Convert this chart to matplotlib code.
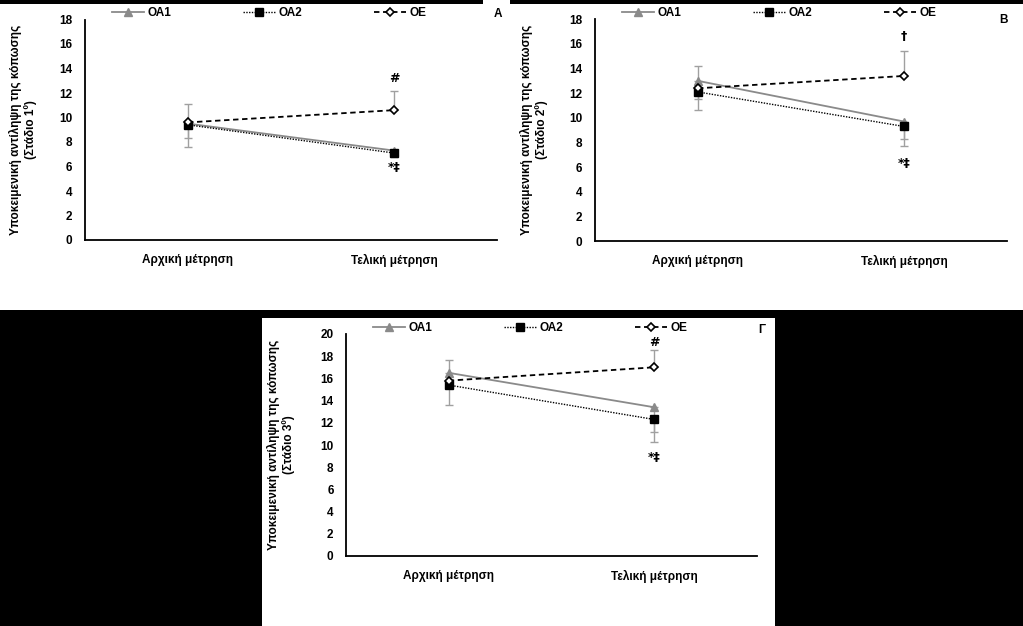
import numpy as np
import matplotlib
matplotlib.use('Agg')
import matplotlib.pyplot as plt
from matplotlib.patches import Rectangle

plt.rcParams['font.family'] = ['Liberation Sans', 'DejaVu Sans']
plt.rcParams['font.weight'] = 'bold'

W, H = 1023, 626

# Κατηγορίες και ετικέτες
categories = ['Αρχική μέτρηση', 'Τελική μέτρηση']
series_names = ['ΟΑ1', 'ΟΑ2', 'ΟΕ']

# Πάνελ Α (Στάδιο 1ο)
oa1_a = [9.5, 7.3]
oa2_a = [9.4, 7.1]
oe_a = [9.6, 10.6]
oa1_a_err = [1.2, 0.4]   # προς τα κάτω
oa2_a_err = [1.8, 0.3]   # προς τα κάτω
oe_a_err = [1.5, 1.6]    # προς τα πάνω

# Πάνελ Β (Στάδιο 2ο)
oa1_b = [13.0, 9.7]
oa2_b = [12.1, 9.3]
oe_b = [12.4, 13.4]
oa1_b_err = [1.5, 1.4]
oa2_b_err = [1.5, 1.6]
oe_b_err = [1.8, 2.0]

# Πάνελ Γ (Στάδιο 3ο)
oa1_c = [16.5, 13.4]
oa2_c = [15.4, 12.3]
oe_c = [15.8, 17.0]
oa1_c_err = [1.3, 2.2]
oa2_c_err = [1.8, 2.0]
oe_c_err = [1.9, 1.6]

# Σημειώσεις σημαντικότητας (κείμενο, τιμή y) στην τελική μέτρηση
notes_a = [('#', 13.2), ('*‡', 5.9)]
notes_b = [('†', 16.6), ('*‡', 6.3)]
notes_c = [('#', 19.2), ('*‡', 8.9)]

GREY = '#8a8a8a'
ERR = '#a0a0a0'
FS = 8.5


def px_rect(x0, y0, x1, y1):
    return [x0 / W, 1 - y1 / H, (x1 - x0) / W, (y1 - y0) / H]


fig = plt.figure(figsize=(W / 100, H / 100), dpi=100, facecolor='black')

# λευκά φόντα των πάνελ
for r in [(0, 4, W, 310), (483, 0, 510, 4), (262, 318, 775, H)]:
    x0, y0, x1, y1 = r
    fig.patches.append(Rectangle((x0 / W, 1 - y1 / H), (x1 - x0) / W, (y1 - y0) / H,
                                 transform=fig.transFigure, facecolor='white',
                                 edgecolor='none', zorder=-5))


def draw_panel(rect, oa1, oa2, oe, e1, e2, e3, ymax, stage, notes, letter, letter_pos,
               legend_pos, ylabel_pos):
    ax = fig.add_axes(px_rect(*rect))
    ax.set_zorder(2)
    ax.patch.set_alpha(0)
    x = np.arange(len(categories))
    zero = np.zeros(len(categories))

    ax.errorbar(x, oa1, yerr=[e1, zero], fmt='none', ecolor=ERR, elinewidth=1, capsize=3, zorder=2)
    ax.errorbar(x, oa2, yerr=[e2, zero], fmt='none', ecolor=ERR, elinewidth=1, capsize=3, zorder=2)
    ax.errorbar(x, oe, yerr=[zero, e3], fmt='none', ecolor=ERR, elinewidth=1, capsize=3, zorder=2)

    ax.plot(x, oa1, color=GREY, lw=1.3, marker='^', ms=5.5, mfc=GREY, mec=GREY, zorder=3,
            label=series_names[0])
    ax.plot(x, oa2, color='black', lw=1.0, ls=(0, (1, 1)), marker='s', ms=5.5, mfc='black',
            mec='black', zorder=4, label=series_names[1])
    ax.plot(x, oe, color='black', lw=1.3, ls=(0, (3, 2)), marker='D', ms=4.5, mfc='white',
            mec='black', mew=1.2, zorder=5, label=series_names[2])

    ax.set_xlim(-0.5, 1.5)
    ax.set_ylim(0, ymax)
    ax.set_yticks(np.arange(0, ymax + 1, 2))
    ax.set_xticks(x)
    ax.set_xticklabels(categories)
    ax.tick_params(axis='x', length=0, pad=10, labelsize=FS)
    ax.tick_params(axis='y', length=0, pad=9, labelsize=FS)
    for s in ['top', 'right']:
        ax.spines[s].set_visible(False)
    for s in ['left', 'bottom']:
        ax.spines[s].set_linewidth(1.3)

    for txt, yv in notes:
        ax.text(1, yv, txt, ha='center', va='center', fontsize=9, fontweight='bold',
                family=['DejaVu Sans'])

    ax.legend(loc='center left', bbox_to_anchor=(legend_pos[0] / W, 1 - legend_pos[1] / H),
              bbox_transform=fig.transFigure, ncol=3, frameon=False, fontsize=FS,
              handlelength=2.7, handletextpad=0.3, columnspacing=6.1, borderpad=0,
              borderaxespad=0, numpoints=1)
    fig.text(letter_pos[0] / W, 1 - letter_pos[1] / H, letter, ha='center', va='center',
             fontsize=FS, fontweight='bold', zorder=3)
    fig.text(ylabel_pos[0] / W, 1 - ylabel_pos[1] / H,
             'Υποκειμενική αντίληψη της κόπωσης\n(Στάδιο ' + stage + 'º)',
             rotation=90, ha='center', va='center', fontsize=FS, fontweight='bold',
             multialignment='center', zorder=3)
    return ax


draw_panel((85, 19.5, 497, 240), oa1_a, oa2_a, oe_a, oa1_a_err, oa2_a_err, oe_a_err, 18, '1',
           notes_a, 'A', (498, 14), (112, 13), (23, 130))
draw_panel((595, 19.3, 1007, 241), oa1_b, oa2_b, oe_b, oa1_b_err, oa2_b_err, oe_b_err, 18, '2',
           notes_b, 'B', (1003, 20), (622, 13), (534, 130))
draw_panel((346, 334, 757, 556), oa1_c, oa2_c, oe_c, oa1_c_err, oa2_c_err, oe_c_err, 20, '3',
           notes_c, 'Γ', (762, 330), (373, 328), (281, 445))

fig.savefig('out.png', dpi=100, facecolor='black')
